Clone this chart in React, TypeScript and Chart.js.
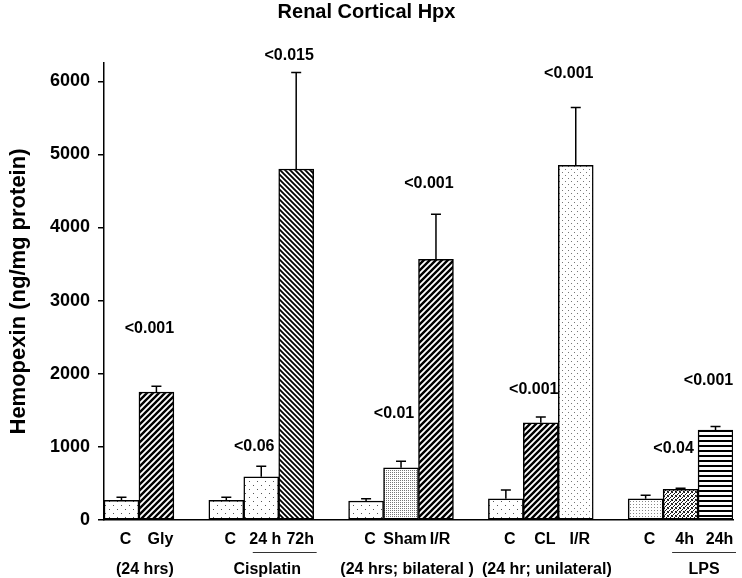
import React, { useEffect, useRef } from 'react';
import { Chart, registerables } from 'chart.js';

Chart.register(...registerables);

// ---- data ----
const categories = ['C', 'Gly', '', 'C', '24 h', '72h', '', 'C', 'Sham', 'I/R', '', 'C', 'CL', 'I/R', '', 'C', '4h', '24h'];
const means = [270, 1750, null, 270, 590, 4800, null, 260, 715, 3565, null, 290, 1330, 4850, null, 290, 420, 1230];
const sems = [40, 80, null, 40, 145, 1320, null, 30, 90, 615, null, 120, 80, 790, null, 50, 15, 50];
const pValues = ['', '<0.001', '', '', '<0.06', '<0.015', '', '', '<0.01', '<0.001', '', '', '<0.001', '<0.001', '', '', '<0.04', '<0.001'];
const pValueLevels = [null, 2620, null, null, 1000, 6350, null, null, 1460, 4600, null, null, 1780, 6100, null, null, 980, 1910];
const groupLabels = ['(24 hrs)', 'Cisplatin', '(24 hrs; bilateral )', '(24 hr; unilateral)', 'LPS'];
const groupFrom = [0, 3, 7, 11, 16];
const groupTo = [1, 5, 9, 13, 17];
const underlineFrom = [4, 16];
const underlineTo = [5, 17];
const yTickValues = [0, 1000, 2000, 3000, 4000, 5000, 6000];
const yMax = 6250;
const chartTitle = 'Renal Cortical Hpx';
const yTitle = 'Hemopexin (ng/mg protein)';

// fill styles (pattern kinds) per bar
const fills = ['dots', 'fwd', 'none', 'dots', 'dots', 'back', 'none', 'dots', 'fine', 'fwd', 'none', 'dots', 'fwd', 'dots2', 'none', 'fine2', 'speckle', 'hlines'];

const FONT = '"Liberation Sans", Arial, Helvetica, sans-serif';

function makePattern(kind: string): CanvasPattern | string {
  const c = document.createElement('canvas');
  let w = 8, h = 8;
  if (kind === 'fwd') { w = 6; h = 6; }
  if (kind === 'back') { w = 5; h = 5; }
  if (kind === 'fine') { w = 2; h = 2; }
  if (kind === 'fine2') { w = 3; h = 3; }
  if (kind === 'speckle') { w = 4; h = 4; }
  if (kind === 'hlines') { w = 4; h = 5; }
  if (kind === 'dots2') { w = 6; h = 6; }
  c.width = w; c.height = h;
  const ctx = c.getContext('2d')!;
  ctx.fillStyle = '#fff';
  ctx.fillRect(0, 0, w, h);
  const px = (x: number, y: number, col: string) => { ctx.fillStyle = col; ctx.fillRect(x, y, 1, 1); };
  switch (kind) {
    case 'dots':
      px(1, 1, '#555'); px(5, 5, '#555');
      break;
    case 'dots2':
      px(1, 1, '#777'); px(4, 4, '#777');
      break;
    case 'fine':
      px(0, 0, '#777');
      break;
    case 'fine2':
      px(0, 0, '#888');
      break;
    case 'speckle':
      px(0, 0, '#111'); px(2, 1, '#111'); px(1, 2, '#111'); px(3, 3, '#111'); px(3, 0, '#444'); px(0, 3, '#444');
      break;
    case 'hlines':
      ctx.fillStyle = '#000'; ctx.fillRect(0, 0, w, 2);
      break;
    case 'fwd': {
      ctx.strokeStyle = '#000'; ctx.lineWidth = 2.4;
      ctx.beginPath();
      ctx.moveTo(-1, h + 1); ctx.lineTo(w + 1, -1);
      ctx.moveTo(-1, 1); ctx.lineTo(1, -1);
      ctx.moveTo(w - 1, h + 1); ctx.lineTo(w + 1, h - 1);
      ctx.stroke();
      break;
    }
    case 'back': {
      ctx.strokeStyle = '#000'; ctx.lineWidth = 1.8;
      ctx.beginPath();
      ctx.moveTo(-1, -1); ctx.lineTo(w + 1, h + 1);
      ctx.moveTo(w - 1, -1); ctx.lineTo(w + 1, 1);
      ctx.moveTo(-1, h - 1); ctx.lineTo(1, h + 1);
      ctx.stroke();
      break;
    }
    default:
      return '#fff';
  }
  return ctx.createPattern(c, 'repeat')!;
}

const overlayPlugin = {
  id: 'overlay',
  afterDatasetsDraw(chart: any) {
    const ctx: CanvasRenderingContext2D = chart.ctx;
    const meta = chart.getDatasetMeta(0);
    const y = chart.scales.y;
    const x = chart.scales.x;
    ctx.save();
    // error bars (upper only)
    ctx.strokeStyle = '#000';
    ctx.lineWidth = 1.5;
    means.forEach((m, i) => {
      if (m == null || sems[i] == null) return;
      const bar = meta.data[i];
      const top = y.getPixelForValue((m as number) + (sems[i] as number));
      ctx.beginPath();
      ctx.moveTo(bar.x, bar.y);
      ctx.lineTo(bar.x, top);
      ctx.moveTo(bar.x - 5, top);
      ctx.lineTo(bar.x + 5, top);
      ctx.stroke();
    });
    // p-values
    ctx.fillStyle = '#000';
    ctx.font = `bold 16px ${FONT}`;
    ctx.textAlign = 'center';
    ctx.textBaseline = 'middle';
    pValues.forEach((p, i) => {
      if (!p || pValueLevels[i] == null) return;
      const bar = meta.data[i];
      ctx.fillText(p, bar.x - 7, y.getPixelForValue(pValueLevels[i] as number));
    });
    // underlines
    ctx.strokeStyle = '#333';
    ctx.lineWidth = 1;
    underlineFrom.forEach((f, k) => {
      const a = meta.data[f];
      const b = meta.data[underlineTo[k]];
      const yy = chart.chartArea.bottom + 32.5;
      ctx.beginPath();
      ctx.moveTo(a.x - a.width / 2 + 9, yy);
      ctx.lineTo(b.x + b.width / 2 + 3, yy);
      ctx.stroke();
    });
    // group labels
    ctx.font = `bold 16px ${FONT}`;
    groupLabels.forEach((g, k) => {
      const cx = (x.getPixelForValue(groupFrom[k]) + x.getPixelForValue(groupTo[k])) / 2 + 6;
      ctx.fillText(g, cx, chart.chartArea.bottom + 50);
    });
    ctx.restore();
  },
};

export default function App() {
  const ref = useRef<HTMLCanvasElement | null>(null);
  useEffect(() => {
    if (!ref.current) return;
    const bg = fills.map((k) => makePattern(k));
    const chart = new Chart(ref.current, {
      type: 'bar',
      data: {
        labels: categories,
        datasets: [
          {
            data: means as any,
            backgroundColor: bg as any,
            borderColor: '#000',
            borderWidth: 1.5,
            borderSkipped: false,
            categoryPercentage: 1,
            barPercentage: 1,
          },
        ],
      },
      options: {
        responsive: false,
        animation: false,
        layout: { padding: { left: 0, right: 9, top: 0, bottom: 0 } },
        plugins: {
          legend: { display: false },
          tooltip: { enabled: false },
          title: {
            display: true,
            text: chartTitle,
            color: '#000',
            font: { family: FONT, size: 20, weight: 'bold' },
            padding: { top: 0, bottom: 39 },
          },
        },
        scales: {
          x: {
            grid: { display: false, drawTicks: false },
            border: { display: true, color: '#000', width: 1.5 },
            ticks: {
              color: '#000',
              font: { family: FONT, size: 16, weight: 'bold' },
              padding: 10,
              labelOffset: 4,
              maxRotation: 0,
              autoSkip: false,
            },
            afterFit: (s: any) => { s.height = 58; },
          },
          y: {
            min: 0,
            max: yMax,
            grid: { drawOnChartArea: false, drawTicks: true, tickLength: 6, color: '#000', lineWidth: 1.5 },
            border: { display: true, color: '#000', width: 1.5 },
            ticks: {
              color: '#000',
              font: { family: FONT, size: 18, weight: 'bold' },
              padding: 8,
              autoSkip: false,
              callback: (v: any) => String(v),
            },
            title: {
              display: true,
              text: yTitle,
              color: '#000',
              font: { family: FONT, size: 22, weight: 'bold' },
              padding: { top: 6, bottom: 0 },
            },
            afterBuildTicks: (s: any) => { s.ticks = yTickValues.map((v) => ({ value: v })); },
            afterFit: (s: any) => { s.width = 104; },
          },
        },
      },
      plugins: [overlayPlugin],
    } as any);
    return () => chart.destroy();
  }, []);
  return (
    <div style={{ position: 'fixed', left: 0, top: 0, width: 742, height: 578, background: '#fff' }}>
      <canvas ref={ref} width={742} height={578} style={{ display: 'block' }} />
    </div>
  );
}
